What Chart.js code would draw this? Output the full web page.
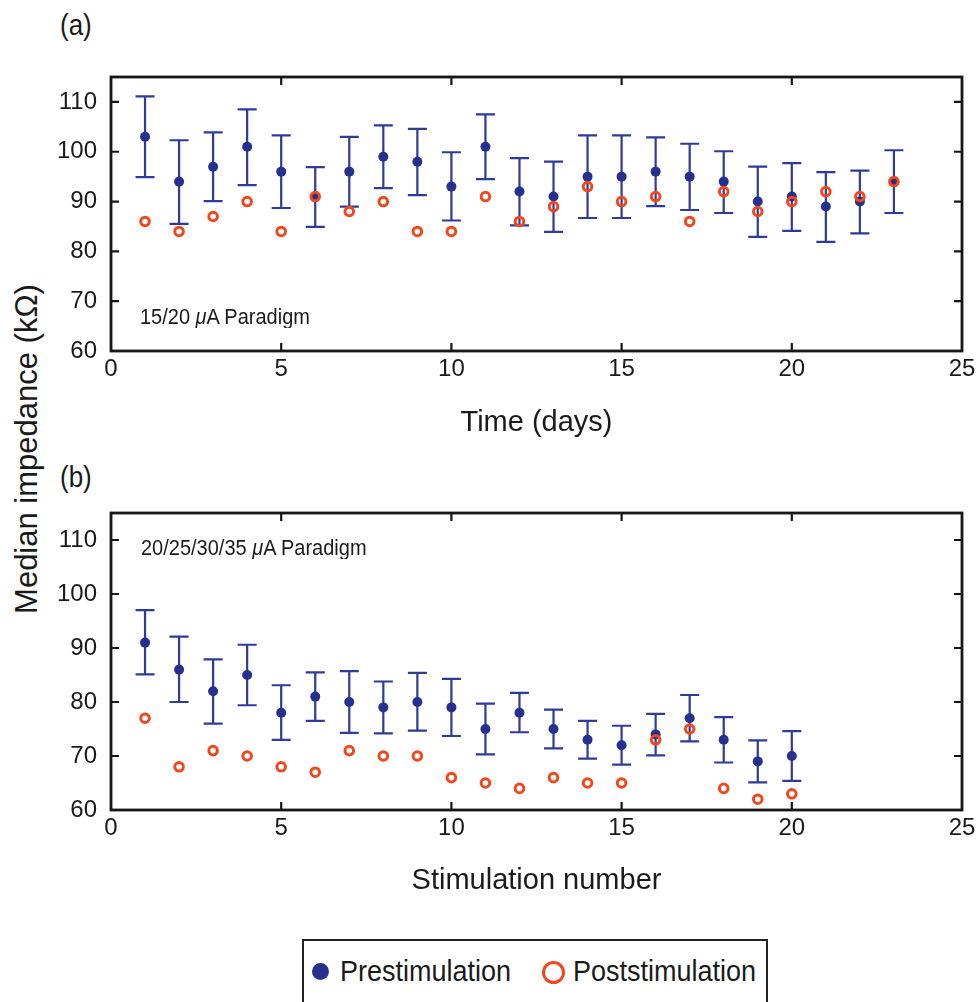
<!DOCTYPE html>
<html>
<head>
<meta charset="utf-8">
<script src="https://cdn.jsdelivr.net/npm/chart.js@4"></script>
<style>
    html, body { margin: 0; padding: 0; background: #fff; overflow: hidden; }
    body { width: 980px; height: 1002px; position: relative; font-family: 'Liberation Sans', Arial, sans-serif; color: #1a1a1a; }
    .panel { position: absolute; left: 0; width: 980px; height: 450px; }
    .tag { position: absolute; font-size: 26px; line-height: 30px; transform: scaleY(1.1); transform-origin: left center; }
    .note { position: absolute; font-size: 20px; line-height: 24px; white-space: nowrap; transform: scaleY(1.08); transform-origin: left center; }
    .ytitle { position: absolute; left: -173px; top: 431px; width: 400px; height: 36px; line-height: 36px;
              font-size: 31px; text-align: center; transform: rotate(-90deg); white-space: nowrap; }
    .legend { position: absolute; left: 302px; top: 939px; width: 466px; height: 70px; box-sizing: border-box; border: 2px solid #222; }
    .legtext { position: absolute; top: 955px; font-size: 27px; line-height: 32px; white-space: nowrap; transform: scaleY(1.1); transform-origin: left center; }
    .dot { position: absolute; width: 17px; height: 17px; border-radius: 50%; background: #26308f; left: 312px; top: 963px; }
    .ring { position: absolute; width: 17px; height: 17px; border-radius: 50%; border: 3.5px solid #f2471d; left: 542px; top: 961px; }
</style>
</head>
<body>

<div class="tag" style="left:60px; top:10px;">(a)</div>
<div class="tag" style="left:60px; top:462px;">(b)</div>
<div class="ytitle">Median impedance (kΩ)</div>

<div class="panel" style="top:0;"><canvas id="chartA"></canvas></div>
<div class="panel" style="top:450px;"><canvas id="chartB"></canvas></div>

<div class="note" style="left:140px; top:304px;">15/20 <i>μ</i>A Paradigm</div>
<div class="note" style="left:141px; top:535px;">20/25/30/35 <i>μ</i>A Paradigm</div>

<div class="legend"></div>
<div class="dot"></div>
<div class="legtext" style="left:340px;">Prestimulation</div>
<div class="ring"></div>
<div class="legtext" style="left:573px;">Poststimulation</div>

<script>
// (a) time course, days 1-23
const daysA = [1, 2, 3, 4, 5, 6, 7, 8, 9, 10, 11, 12, 13, 14, 15, 16, 17, 18, 19, 20, 21, 22, 23];
const preA = [103, 94, 97, 101, 96, 91, 96, 99, 98, 93, 101, 92, 91, 95, 95, 96, 95, 94, 90, 91, 89, 90, 94];
const preLowA = [94.9, 85.5, 90.1, 93.3, 88.7, 84.9, 89, 92.7, 91.3, 86.2, 94.5, 85.2, 83.9, 86.7, 86.7, 89.1, 88.3, 87.7, 82.9, 84.1, 81.9, 83.6, 87.7];
const preHighA = [111.1, 102.3, 103.9, 108.5, 103.3, 96.9, 103, 105.3, 104.6, 99.9, 107.5, 98.7, 98, 103.3, 103.3, 102.9, 101.6, 100.1, 97, 97.7, 95.9, 96.2, 100.3];
const postA = [86, 84, 87, 90, 84, 91, 88, 90, 84, 84, 91, 86, 89, 93, 90, 91, 86, 92, 88, 90, 92, 91, 94];

// (b) per stimulation, 1-20
const stimB = [1, 2, 3, 4, 5, 6, 7, 8, 9, 10, 11, 12, 13, 14, 15, 16, 17, 18, 19, 20];
const preB = [91, 86, 82, 85, 78, 81, 80, 79, 80, 79, 75, 78, 75, 73, 72, 74, 77, 73, 69, 70];
const preLowB = [85.1, 80, 76, 79.4, 73, 76.5, 74.3, 74.2, 74.7, 73.7, 70.3, 74.4, 71.4, 69.5, 68.4, 70.1, 72.7, 68.8, 65.1, 65.4];
const preHighB = [97, 92.1, 87.9, 90.6, 83.1, 85.5, 85.7, 83.8, 85.4, 84.3, 79.7, 81.7, 78.6, 76.5, 75.6, 77.8, 81.3, 77.2, 72.9, 74.6];
const postB = [77, 68, 71, 70, 68, 67, 71, 70, 70, 66, 65, 64, 66, 65, 65, 73, 75, 64, 62, 63];

const xTicks = [0, 5, 10, 15, 20, 25];
const yTicks = [60, 70, 80, 90, 100, 110];

const navy = '#26308f';
const barBlue = '#2e3a9c';
const orange = '#f2471d';
const fontFamily = "'Liberation Sans', Arial, sans-serif";

// error bars under the points, box + inward ticks on top
const framePlugin = {
    id: 'frame',
    beforeDatasetsDraw (chart) {
        const ctx = chart.ctx;
        const yScale = chart.scales.y;
        ctx.save();
        ctx.strokeStyle = barBlue;
        ctx.lineWidth = 2.2;
        chart.data.datasets.forEach((ds, i) => {
            if (!ds.errLow) return;
            const meta = chart.getDatasetMeta(i);
            meta.data.forEach((pt, j) => {
                const yl = yScale.getPixelForValue(ds.errLow[j]);
                const yh = yScale.getPixelForValue(ds.errHigh[j]);
                ctx.beginPath();
                ctx.moveTo(pt.x, yl);
                ctx.lineTo(pt.x, yh);
                ctx.moveTo(pt.x - 9.5, yl);
                ctx.lineTo(pt.x + 9.5, yl);
                ctx.moveTo(pt.x - 9.5, yh);
                ctx.lineTo(pt.x + 9.5, yh);
                ctx.stroke();
            });
        });
        ctx.restore();
    },
    afterDraw (chart) {
        const ctx = chart.ctx;
        const {left, right, top, bottom} = chart.chartArea;
        const xs = chart.scales.x;
        const ys = chart.scales.y;
        ctx.save();
        ctx.strokeStyle = '#161616';
        ctx.lineWidth = 2.8;
        ctx.strokeRect(left, top, right - left, bottom - top);
        ctx.lineWidth = 2.2;
        ctx.beginPath();
        xTicks.slice(1, -1).forEach(v => {
            const px = xs.getPixelForValue(v);
            ctx.moveTo(px, bottom); ctx.lineTo(px, bottom - 8);
            ctx.moveTo(px, top); ctx.lineTo(px, top + 8);
        });
        yTicks.slice(1).forEach(v => {
            const py = ys.getPixelForValue(v);
            ctx.moveTo(left, py); ctx.lineTo(left + 8, py);
            ctx.moveTo(right, py); ctx.lineTo(right - 8, py);
        });
        ctx.stroke();
        ctx.restore();
    }
};

function makeChart (id, xs, pre, lo, hi, post, xTitle, topPad, titlePad, axisHeight) {
    const data = {
        datasets: [{
            label: 'Poststimulation',
            data: xs.map((x, i) => ({x: x, y: post[i]})),
            pointStyle: 'circle',
            pointRadius: 4.3,
            pointBorderWidth: 3,
            pointBorderColor: orange,
            pointBackgroundColor: 'rgba(255,255,255,0)',
            order: 0
        }, {
            label: 'Prestimulation',
            data: xs.map((x, i) => ({x: x, y: pre[i]})),
            pointStyle: 'circle',
            pointRadius: 5,
            pointBorderWidth: 0,
            pointBackgroundColor: navy,
            errLow: lo,
            errHigh: hi,
            order: 1
        }]
    };

    const config = {
        type: 'scatter',
        data,
        options: {
            responsive: true,
            maintainAspectRatio: false,
            animation: false,
            events: [],
            layout: { padding: { top: topPad, right: 18, left: 0, bottom: 0 } },
            plugins: { legend: { display: false }, tooltip: { enabled: false } },
            scales: {
                x: {
                    type: 'linear',
                    min: 0,
                    max: 25,
                    afterBuildTicks: scale => { scale.ticks = xTicks.map(v => ({value: v})); },
                    afterFit: scale => { scale.height = axisHeight; },
                    grid: { display: false, drawTicks: false },
                    border: { display: false },
                    ticks: { padding: 4, color: '#1a1a1a', font: { family: fontFamily, size: 24 } },
                    title: {
                        display: true,
                        text: xTitle,
                        color: '#1a1a1a',
                        padding: { top: 0, bottom: titlePad },
                        font: { family: fontFamily, size: 29, lineHeight: 1.2 }
                    }
                },
                y: {
                    type: 'linear',
                    min: 60,
                    max: 115,
                    afterBuildTicks: scale => { scale.ticks = yTicks.map(v => ({value: v})); },
                    afterFit: scale => { scale.width = 111; },
                    grid: { display: false, drawTicks: false },
                    border: { display: false },
                    ticks: { padding: 14, color: '#1a1a1a', font: { family: fontFamily, size: 24 } }
                }
            }
        },
        plugins: [framePlugin]
    };

    return new Chart(document.getElementById(id), config);
}

makeChart('chartA', daysA, preA, preLowA, preHighA, postA, 'Time (days)', 77, 10, 99);
makeChart('chartB', stimB, preB, preLowB, preHighB, postB, 'Stimulation number', 63, 2, 90);
</script>
</body>
</html>
